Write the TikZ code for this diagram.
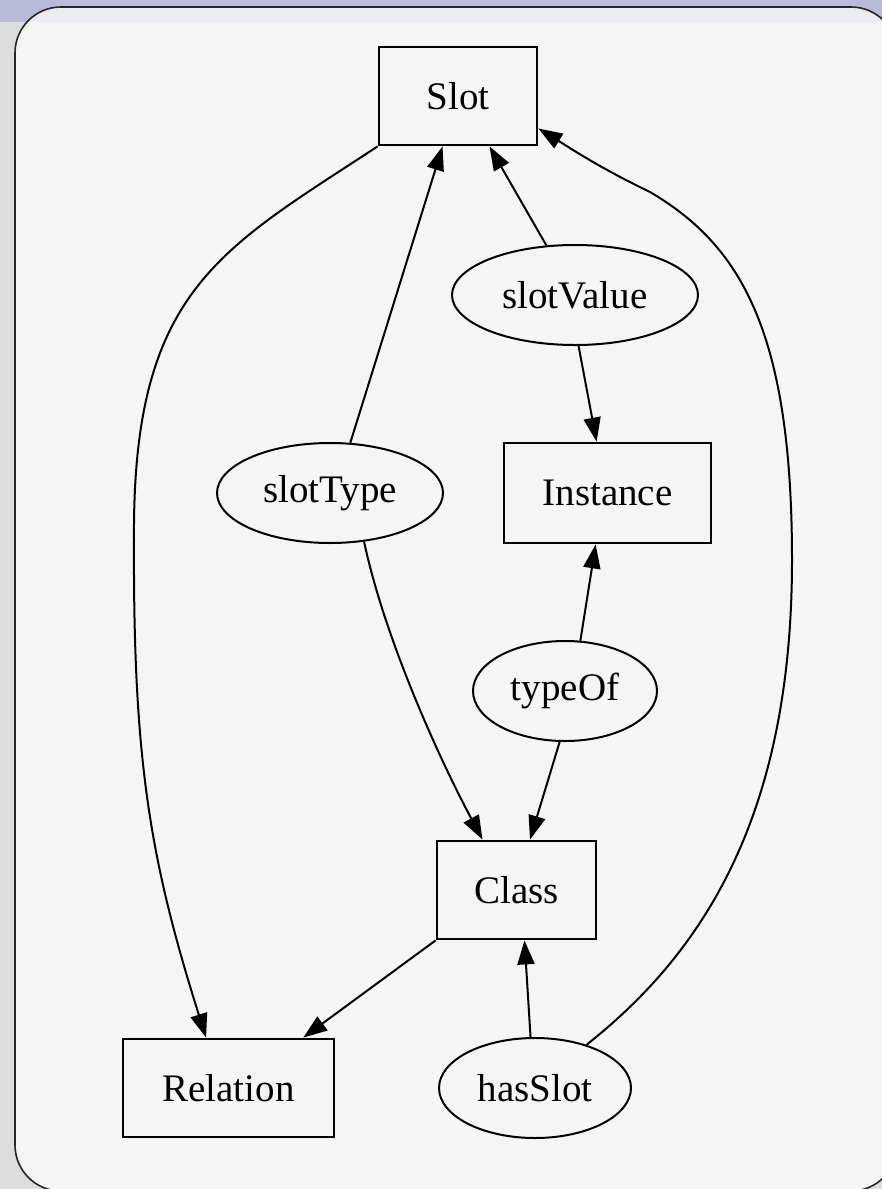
\documentclass[tikz,border=0pt]{standalone}
\usepackage{fontspec}
\setmainfont{Liberation Serif}
\usetikzlibrary{shapes.geometric,arrows.meta}
\definecolor{panelbg}{HTML}{F5F5F5}
\definecolor{titlebar}{HTML}{B8BCD8}
\definecolor{titleband}{HTML}{EBEBF0}
\definecolor{sidebar}{HTML}{DCDCDC}
\newcommand\gvfont{\fontsize{19.5pt}{23pt}\selectfont}
\begin{document}
\begin{tikzpicture}[x=0.5pt,y=-0.5pt,
  box/.style={draw, line width=1.4pt, rectangle, inner sep=0pt, font=\gvfont},
  oval/.style={draw, line width=1pt, ellipse, inner sep=0pt, font=\gvfont},
  link/.style={line width=1pt, -{Triangle[length=12pt,width=8.5pt]}},
]
\useasboundingbox (0,0) rectangle (882,1189);
% window frame
\fill[titlebar] (0,0) rectangle (882,22);
\fill[sidebar] (0,22) rectangle (882,1189);
\begin{scope}
  \clip[rounded corners=23pt] (15,7) rectangle (897,1191);
  \fill[panelbg] (15,7) rectangle (897,1191);
  \fill[titleband] (15,7) rectangle (897,22);
\end{scope}
\draw[line width=0.8pt, black!85, rounded corners=23pt] (15,7) rectangle (897,1191);

% nodes
\node[box, minimum width=79pt, minimum height=49pt] (slot) at (458,96) {Slot};
\node[oval, minimum width=123pt, minimum height=50pt] (slotValue) at (575,295) {slotValue};
\node[box, minimum width=103.5pt, minimum height=50pt] (instance) at (607.5,493) {Instance};
\node[oval, minimum width=113pt, minimum height=50pt] (slotType) at (330,493) {slotType};
\node[oval, minimum width=92pt, minimum height=50pt] (typeOf) at (565,691) {typeOf};
\node[box, minimum width=79.5pt, minimum height=49pt] (class) at (516.5,890) {Class};
\node[box, minimum width=105.5pt, minimum height=49pt] (relation) at (228.5,1088) {Relation};
\node[oval, minimum width=96pt, minimum height=50pt] (hasSlot) at (535,1088) {hasSlot};

% edges
\draw[link] (slotType.68) -- (slot.-107);
\draw[link] (slotValue.120) -- (slot.-58.5);
\draw[link] (slotValue.-86) -- (instance.102);
\draw[link] (typeOf.73) -- (instance.-103);
\draw[link] (typeOf.-96) -- (class.75);
\draw[link] (slotType.-55) .. controls (385,640) and (440,760) .. (class.124);
\draw[link] (class.south west) -- (relation.34);
\draw[link] (hasSlot.95) -- (class.-81);
\draw[link] (slot.south west) .. controls (220,250) and (132,290) .. (134,540)
  .. controls (133,760) and (150,860) .. (relation.114);
\draw[link] (hasSlot.40) .. controls (700,955) and (792,820) .. (792,560)
  .. controls (792,330) and (740,245) .. (650,192)
  .. controls (600,168) and (570,148) .. (slot.-22);
\end{tikzpicture}
\end{document}
